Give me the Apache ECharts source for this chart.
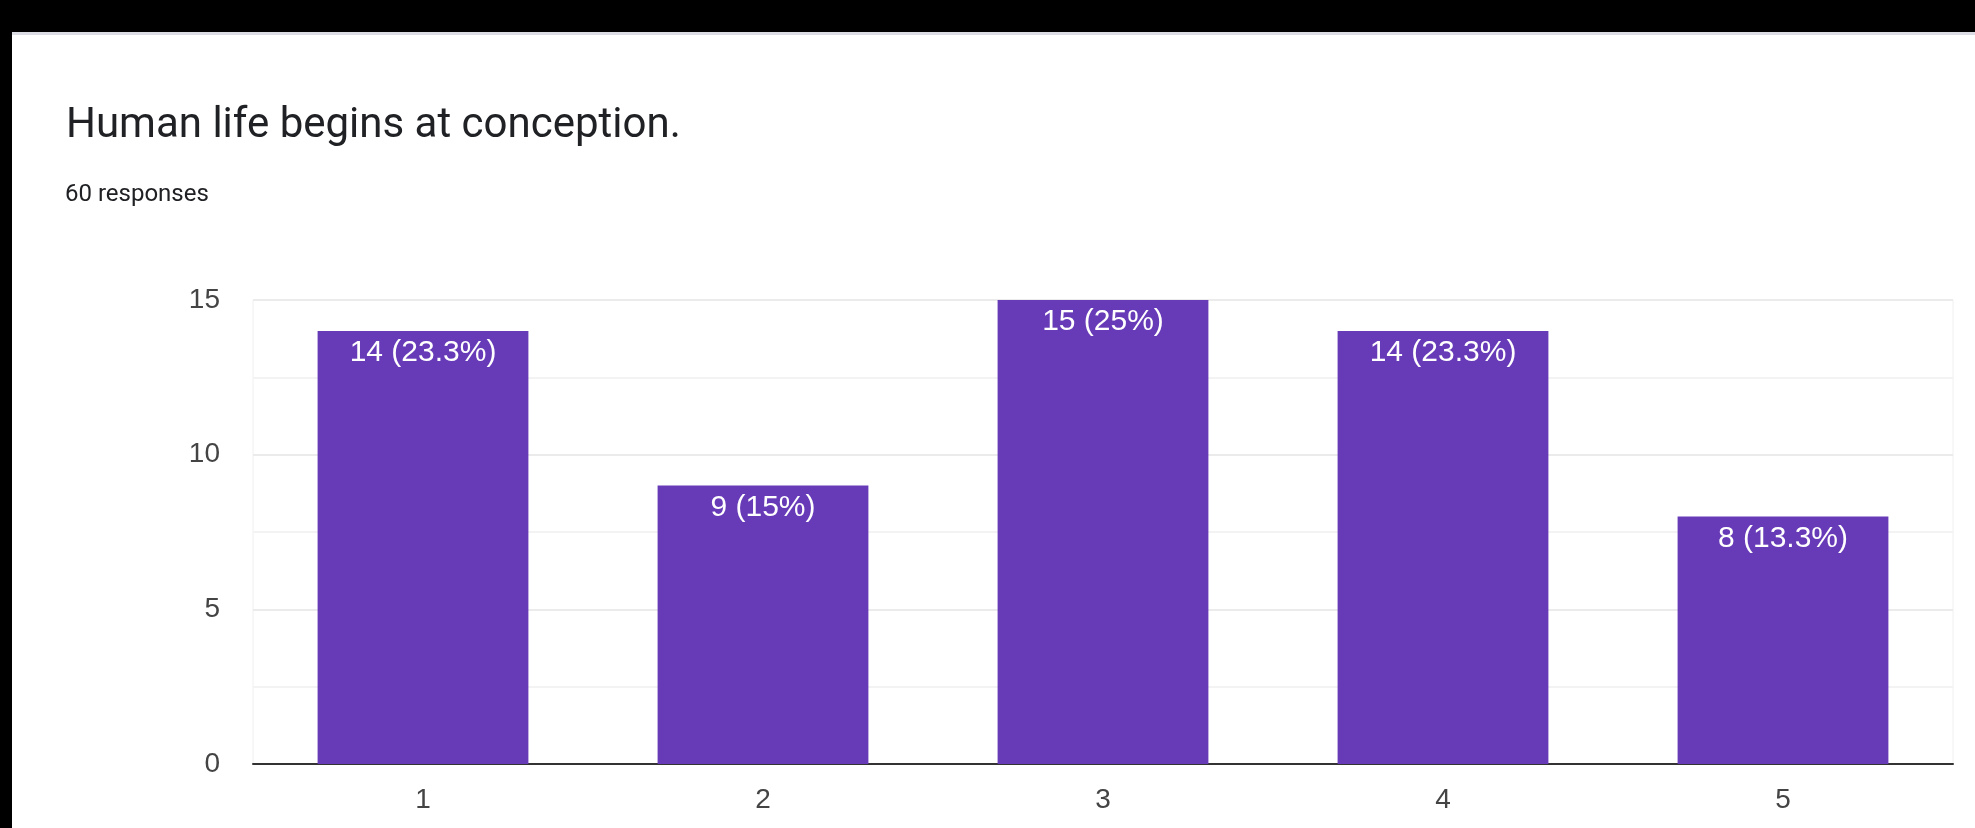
<!DOCTYPE html>
<html>
<head>
<meta charset="utf-8">
<script src="https://cdn.jsdelivr.net/npm/echarts@6/dist/echarts.min.js"></script>
<style>
html,body{margin:0;padding:0;background:#fff;}
#chart{width:1975px;height:828px;}
</style>
</head>
<body>
<div id="chart"></div>
<script>
const titleText = "Human life begins at conception.";
const subtitleText = "60 responses";
const categories = ["1", "2", "3", "4", "5"];
const counts = [14, 9, 15, 14, 8];
const totalResponses = 60;
const yTicks = [0, 5, 10, 15];

const chart = echarts.init(document.getElementById('chart'), null, {renderer: 'canvas'});
const fmtPct = v => {
  const p = Math.round(v / totalResponses * 1000) / 10;
  return v + ' (' + p + '%)';
};
chart.setOption({
  animation: false,
  backgroundColor: '#ffffff',
  title: [
    {text: titleText, left: 61, top: 100,
     textStyle: {fontFamily: 'Roboto', fontWeight: 'normal', fontSize: 42, color: '#202124'}},
    {text: subtitleText, left: 60, top: 178,
     textStyle: {fontFamily: 'Roboto', fontWeight: 'normal', fontSize: 24, color: '#202124'}}
  ],
  graphic: [
    {type: 'rect', left: 0, top: 0, shape: {width: 1975, height: 32}, style: {fill: '#000'}, z: 100},
    {type: 'rect', left: 0, top: 0, shape: {width: 12, height: 828}, style: {fill: '#000'}, z: 100},
    {type: 'rect', left: 12, top: 32, shape: {width: 1963, height: 3}, style: {fill: '#dcdce4'}, z: 99}
  ],
  grid: {left: 253, right: 22, top: 300, bottom: 64, show: true, borderColor: '#f0f0f0', borderWidth: 1},
  xAxis: {
    type: 'category', data: categories,
    axisLine: {show: true, lineStyle: {color: '#333', width: 2}},
    axisTick: {show: false},
    axisLabel: {fontFamily: 'Liberation Sans, Arial', fontSize: 28, color: '#444', margin: 22}
  },
  yAxis: {
    type: 'value', min: 0, max: 15, interval: 5,
    axisLine: {show: false}, axisTick: {show: false},
    axisLabel: {fontFamily: 'Liberation Sans, Arial', fontSize: 28, color: '#444', margin: 33,
      formatter: v => yTicks.includes(v) ? String(v) : ''},
    splitLine: {lineStyle: {color: '#ebebeb', width: 2}},
    minorTick: {show: false, splitNumber: 2},
    minorSplitLine: {show: true, lineStyle: {color: '#f3f3f3', width: 2}}
  },
  series: [{
    type: 'bar', data: counts, barWidth: '62%',
    itemStyle: {color: '#673ab7'},
    label: {show: true, position: 'insideTop', distance: 7, color: '#fff',
      fontFamily: 'Liberation Sans, Arial', fontSize: 30,
      formatter: p => fmtPct(p.value)}
  }]
});
</script>
</body>
</html>
